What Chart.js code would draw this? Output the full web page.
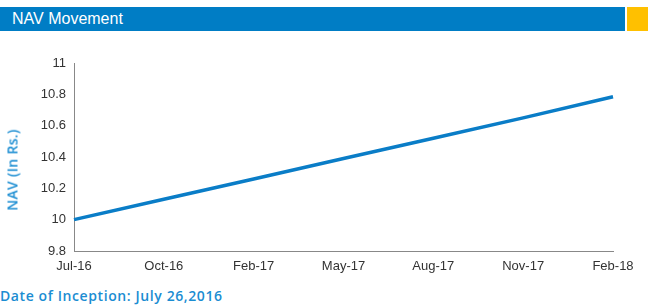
<!DOCTYPE html>
<html>
<head>
<meta charset="utf-8">
<script src="https://cdn.jsdelivr.net/npm/chart.js@4/dist/chart.umd.min.js"></script>
<style>
html,body{margin:0;padding:0;background:#fff;width:648px;height:305px;overflow:hidden;font-family:"Liberation Sans",Arial,sans-serif;}
#hdr{position:absolute;left:0;top:7px;width:625px;height:24px;background:#007dc5;color:#fff;font-size:16px;line-height:24px;}
#hdr span{position:absolute;left:12px;top:0;}
#yel{position:absolute;left:627px;top:7px;width:21px;height:24px;background:#ffc000;}
#wrap{position:absolute;left:0;top:40px;width:648px;height:245px;}
#ylab{position:absolute;left:12px;top:170px;transform:translate(-50%,-50%) rotate(-90deg);white-space:nowrap;color:#1b8dd2;font-family:"Open Sans","Noto Sans",sans-serif;font-size:14px;font-weight:600;letter-spacing:0.3px;}
#foot{position:absolute;left:0;top:286px;color:#1b8dd2;font-family:"Open Sans","Noto Sans",sans-serif;font-size:14px;font-weight:600;letter-spacing:0.6px;}
</style>
</head>
<body>
<div id="hdr"><span>NAV Movement</span></div>
<div id="yel"></div>
<div id="wrap"><canvas id="c" width="648" height="245"></canvas></div>
<div id="ylab">NAV (In Rs.)</div>
<div id="foot">Date of Inception: July 26,2016</div>
<script>
const categories = ["Jul-16","Oct-16","Feb-17","May-17","Aug-17","Nov-17","Feb-18"];
const navValues = [10.00, 10.13, 10.26, 10.39, 10.52, 10.65, 10.785];
const yTicks = [9.8, 10, 10.2, 10.4, 10.6, 10.8, 11];

new Chart(document.getElementById('c'), {
  type: 'line',
  data: {
    labels: categories,
    datasets: [{
      data: navValues,
      borderColor: '#0a7dc7',
      borderWidth: 3.5,
      pointRadius: 0,
      tension: 0,
      fill: false
    }]
  },
  options: {
    responsive: false,
    animation: false,
    layout: { padding: { top: 23, right: 35, left: 0, bottom: 0 } },
    plugins: { legend: { display: false }, tooltip: { enabled: false } },
    scales: {
      x: {
        offset: false,
        grid: { display: false, drawTicks: true, tickLength: 4, color: '#888' },
        border: { display: true, color: '#888', width: 1 },
        ticks: { color: '#333', font: { family: 'Liberation Sans', size: 13 }, maxRotation: 0, autoSkip: false, padding: 4 },
        afterFit: s => { s.height = 34; }
      },
      y: {
        min: 9.8, max: 11,
        afterBuildTicks: s => { s.ticks = yTicks.map(v => ({ value: v })); },
        grid: { display: false, drawTicks: true, tickLength: 4, color: '#888' },
        border: { display: true, color: '#888', width: 1 },
        ticks: { color: '#333', font: { family: 'Liberation Sans', size: 13 }, padding: 4,
          callback: v => String(+v.toFixed(1)) },
        afterFit: s => { s.width = 74; }
      }
    }
  }
});
</script>
</body>
</html>
